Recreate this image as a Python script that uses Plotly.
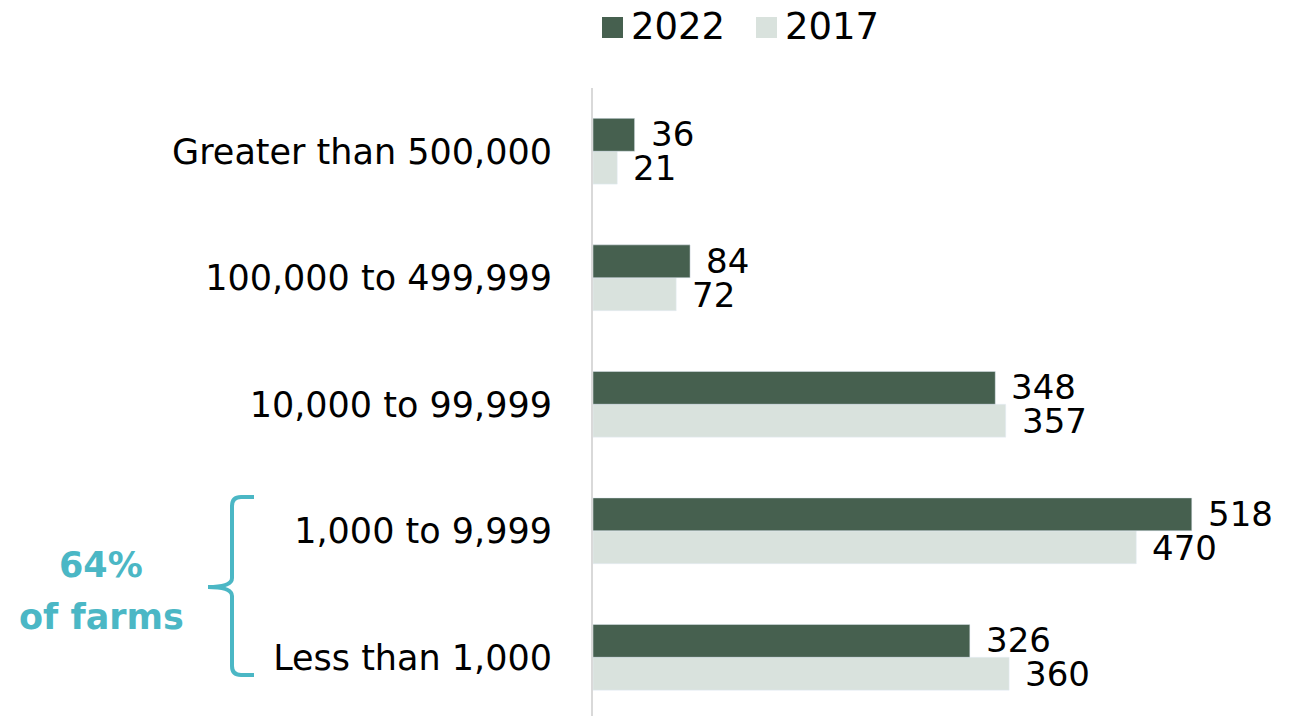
import plotly.graph_objects as go

# Farm counts by size class, 2022 vs 2017
categories = ["Less than 1,000", "1,000 to 9,999", "10,000 to 99,999",
              "100,000 to 499,999", "Greater than 500,000"]
values_2022 = [326, 518, 348, 84, 36]
values_2017 = [360, 470, 357, 72, 21]
series_names = ["2022", "2017"]

DARK = "#46604F"
LIGHT = "#D9E2DD"
TEAL = "#4BB7C5"
FONT = "DejaVu Sans"

W, H = 1304, 716
L, T = 593, 88
PW, PH = W - L, H - T


def px(x):
    return (x - L) / PW


def py(y):
    return (H - y) / PH


fig = go.Figure()
# 2017 added first so it sits below 2022 within each group
fig.add_trace(go.Bar(y=categories, x=values_2017, orientation="h",
                     marker_color=LIGHT, name=series_names[1], showlegend=False))
fig.add_trace(go.Bar(y=categories, x=values_2022, orientation="h",
                     marker_color=DARK, name=series_names[0], showlegend=False))

annotations = []
for cat, v22, v17 in zip(categories, values_2022, values_2017):
    annotations.append(dict(x=v22, y=cat, xref="x", yref="y", text=str(v22),
                            showarrow=False, xanchor="left", yanchor="middle",
                            xshift=14, yshift=17, font=dict(size=34, color="black", family=FONT)))
    annotations.append(dict(x=v17, y=cat, xref="x", yref="y", text=str(v17),
                            showarrow=False, xanchor="left", yanchor="middle",
                            xshift=14, yshift=-17, font=dict(size=34, color="black", family=FONT)))

# legend drawn as swatches + labels
shapes = []
legend_items = [(series_names[0], DARK, 602), (series_names[1], LIGHT, 756)]
for name, col, x0 in legend_items:
    shapes.append(dict(type="rect", xref="paper", yref="paper",
                       x0=px(x0), x1=px(x0 + 21), y0=py(38), y1=py(17),
                       fillcolor=col, line_width=0))
    annotations.append(dict(x=px(x0 + 27), y=py(27), xref="paper", yref="paper",
                            text=name, showarrow=False, xanchor="left", yanchor="middle",
                            font=dict(size=37, color="black", family=FONT)))

# bracket grouping the two smallest size classes
path = ("M {a},{b} L {c},{b} Q {d},{b} {d},{e} L {d},{f} Q {d},{g} {h},{g} "
        "Q {d},{g} {d},{i} L {d},{j} Q {d},{k} {c},{k} L {a},{k}").format(
    a=px(254), b=py(497), c=px(241), d=px(232), e=py(506), f=py(578),
    g=py(587), h=px(208), i=py(596), j=py(666), k=py(675))
shapes.append(dict(type="path", xref="paper", yref="paper", path=path,
                   line=dict(color=TEAL, width=4)))

annotations.append(dict(x=px(101), y=py(565), xref="paper", yref="paper", text="<b>64%</b>",
                        showarrow=False, xanchor="center", yanchor="middle",
                        font=dict(size=35, color=TEAL, family=FONT)))
annotations.append(dict(x=px(101), y=py(617), xref="paper", yref="paper", text="<b>of farms</b>",
                        showarrow=False, xanchor="center", yanchor="middle",
                        font=dict(size=35, color=TEAL, family=FONT)))

fig.update_layout(
    width=W, height=H,
    margin=dict(l=L, r=0, t=T, b=0),
    plot_bgcolor="white", paper_bgcolor="white",
    barmode="group", bargap=0.48, bargroupgap=0,
    font=dict(family=FONT, size=35, color="black"),
    shapes=shapes, annotations=annotations,
    showlegend=False,
)
fig.update_xaxes(range=[0, PW / 1.156], visible=False)
fig.update_yaxes(type="category", categoryorder="array", categoryarray=categories,
                 range=[-0.464, 4.5], showline=True, linecolor="#D9D9D9", linewidth=2,
                 showgrid=False, zeroline=False, ticks="", ticklabelstandoff=32,
                 tickfont=dict(size=35, family=FONT, color="black"))

fig.write_html("out.html")
